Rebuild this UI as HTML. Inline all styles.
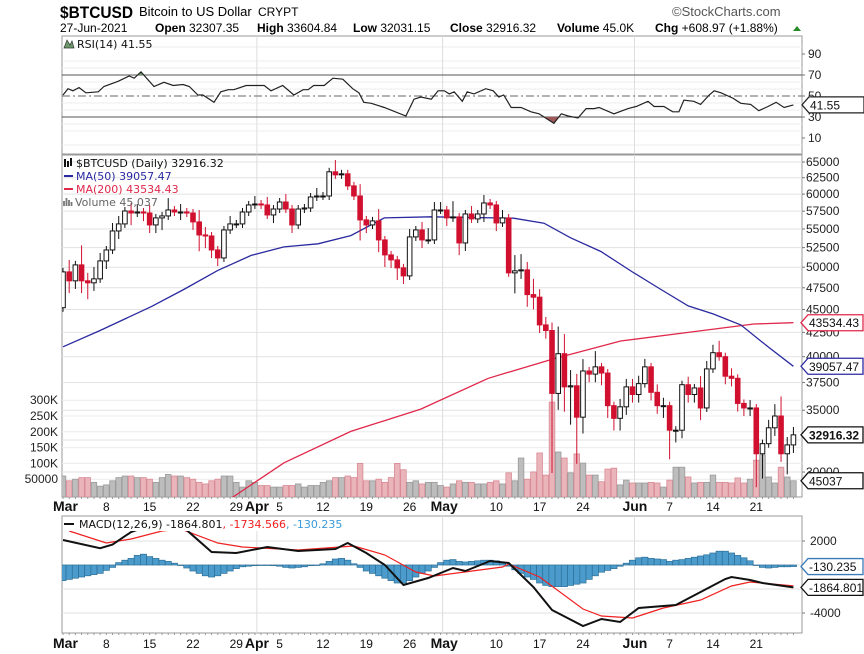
<!DOCTYPE html>
<html><head><meta charset="utf-8">
<style>
html,body{margin:0;padding:0;background:#fff;}
svg{display:block;font-family:"Liberation Sans",Arial,sans-serif;}
.leg{font-family:"DejaVu Sans","Liberation Sans",sans-serif;font-size:11px;}
</style></head>
<body>
<svg id="chart" width="864" height="654" viewBox="0 0 864 654" xmlns="http://www.w3.org/2000/svg">
<defs>
<clipPath id="cpMain"><rect x="62" y="155" width="740" height="342"/></clipPath>
<clipPath id="cpRsi"><rect x="62" y="36" width="740" height="118"/></clipPath>
<clipPath id="cpRsiLow"><rect x="62" y="117" width="740" height="37"/></clipPath>
<clipPath id="cpRsiHigh"><rect x="62" y="36" width="740" height="39"/></clipPath>
<clipPath id="cpMacd"><rect x="62" y="516" width="740" height="117"/></clipPath>
</defs>
<g id="header">
<text x="60" y="18" font-size="17" font-weight="bold" textLength="73" lengthAdjust="spacingAndGlyphs">$BTCUSD</text>
<text x="139" y="16" font-size="13">Bitcoin to US Dollar</text>
<text x="258" y="16" font-size="12">CRYPT</text>
<text x="672" y="16" font-size="13" fill="#555">©StockCharts.com</text>
<text x="60" y="32" font-size="12">27-Jun-2021<tspan x="155" font-weight="bold">Open</tspan> 32307.35<tspan x="257" font-weight="bold">High</tspan> 33604.84<tspan x="353" font-weight="bold">Low</tspan> 32031.15<tspan x="450" font-weight="bold">Close</tspan> 32916.32<tspan x="557" font-weight="bold">Volume</tspan> 45.0K<tspan x="655" font-weight="bold">Chg</tspan> +608.97 (+1.88%)</text>
<polygon points="793,31 797,26 801,31" fill="#2a8a2a"/>
</g>
<g id="rsiPanel"></g>
<g id="mainPanel"></g>
<g id="xAxis1"></g>
<g id="macdPanel"></g>
<g id="xAxis2"></g>
</svg>
<script>
// ---- data ----
const dayLabels = ["Mar","8","15","22","29","Apr","5","12","19","26","May","10","17","24","Jun","7","14","21"];
const dayLabelIdx = [0,7,14,21,28,31,35,42,49,56,61,70,77,84,92,98,105,112];
const monthStartIdx = [31,61,92];
const firstOpen = 45200;
const closes = [
49420,48330,50290,48330,48090,48570,50790,52200,54730,55700,
57525,57240,57380,57240,55560,56540,56820,57670,57380,57380,
57240,55980,54190,54050,52200,51170,54870,55700,55700,57380,
58400,58540,58400,56960,57810,58830,57810,55560,57810,57960,
59570,59720,59720,63430,62950,63110,61240,59720,56260,55560,
56120,53520,51560,50920,49920,48930,53920,54870,53520,53520,
57670,57670,56540,56680,53120,57100,56400,57100,58690,58400,
55840,56540,49300,49550,49670,46700,46400,43300,42700,36500,
40300,37100,37200,34400,38600,38300,39000,38400,35400,34300,
35300,37100,36400,37400,39000,36600,35400,35400,33300,33300,
37300,36400,37000,35200,38800,40400,40000,38100,37900,35600,
35200,35200,31400,32200,33500,34500,31400,32100,32916];
const wickUpPct = [
1,3,1,5,2,3,2,1,2,2, 1,2,2,1,2,1,1,3,1,2, 1,1,3,2,1,1,1,2,1,1,
1,2,1,2,1,1,2,1,1,1, 1,2,1,1,3,1,1,1,3,1, 1,3,1,1,1,1,2,1,2,3,
2,2,1,4,1,1,2,1,2,1, 1,2,1,4,4,2,4,2,2,2, 7,5,4,3,3,1,4,1,1,1,
2,2,2,2,2,1,2,2,1,1, 1,2,1,3,2,2,3,1,2,1, 1,2,1,1,2,3,5,2,2];
const wickDnPct = [
1,3,2,3,4,2,1,2,1,2, 1,3,1,2,2,2,3,1,1,2, 1,2,4,3,2,2,1,1,1,1,
1,1,1,1,2,1,1,2,1,1, 1,1,1,1,1,1,1,1,5,2, 1,3,3,2,3,2,1,1,2,1,
1,1,2,1,3,2,1,1,2,1, 2,1,1,5,2,3,3,2,2,18, 4,6,9,11,4,2,2,3,3,3,
3,2,2,2,1,2,2,3,7,3, 2,2,2,3,1,1,1,2,2,2, 2,2,8,6,1,2,2,5,2];
const volumesK = [
60,45,50,55,55,40,28,32,45,55, 60,60,55,55,50,40,55,65,60,60,
55,50,40,35,45,50,60,60,40,25, 45,40,30,30,25,25,30,30,35,25,
30,30,40,45,55,55,60,55,100,45, 45,50,40,55,100,80,40,45,35,40,
40,30,25,35,45,40,40,35,35,40, 45,35,70,45,117,50,73,133,63,294,
136,117,70,130,101,63,63,42,82,85, 32,47,38,38,38,40,38,25,47,88,
88,57,38,40,40,63,40,40,38,54, 38,50,110,127,57,38,88,57,45];
const ma50Day = [0,6,14.2,19.5,25,30.4,35.7,41.2,46.5,51.9,59.4,72.8,77.7,82,86.9,92,96.6,101,105,109.5,113.9,118];
const ma50Val = [41000,42700,45300,47300,49600,51500,52600,53000,54100,56540,56700,56500,55800,53800,52000,49400,47300,45400,44500,43300,41000,39057];
const ma200Day = [20,27.5,35.7,46.5,57.8,68.7,79.3,90.1,101,111.6,118];
const ma200Val = [26500,28200,30700,33200,35100,37900,39800,41600,42500,43400,43534];
const priceTicks = [65000,62500,60000,57500,55000,52500,50000,47500,45000,42500,40000,37500,35000,30000];
const volTicks = [300,250,200,150,100,50];
const volTickLabels = ["300K","250K","200K","150K","100K","50000"];
const rsiDay = [0,0.8,1.6,2.6,3.7,5.7,6.6,8.9,10.7,11.5,12.6,14.7,16.3,17.8,19.4,20.4,21.8,22.6,24.4,25.5,26.7,27.6,29.6,32.5,33.6,35.5,37.3,38.8,39.6,40.5,42.2,43.6,45.2,46.8,47.8,48.6,49.8,51.9,55.4,56.7,57.8,59.5,60.6,61.6,62.4,63.2,64.5,65.3,66.4,68.3,69.5,70.4,71.2,72.4,74,75.6,76.9,79.3,80.5,81.6,83.2,84.5,85.8,86.6,89,91.3,92.6,94.5,95.5,97.1,98.5,99.5,100.3,101.9,103,104.4,105.2,106.3,108.2,109.5,111.1,112.4,113.9,115.2,116.5,118];
const rsiVal = [51,57,55,58,53,54,59,64,69,67,73,59,63,60,61,59,51,51,44,54,56,56,60,60,55,60,51,56,56,60,60,67,66,57,53,44,43,39,31,47,49,47,55,55,52,54,45,54,52,57,55,49,51,39,39,35,33,24,33,31,29,38,38,39,33,38,40,45,40,40,35,35,46,45,42,51,55,53,48,43,42,36,40,44,39,41.55];
const rsiTicks = [90,70,50,30,10];
const macdDay = [0,6,8,11,14,17,20,24,28,33,38,44,46,49,52,55,59,63,65,69,72,76,79,84,87,90,93,99,103,107,108,111,113,118];
const macdVal = [2080,1400,1700,2750,3300,3400,2900,1080,1000,1500,1170,1330,1830,1000,0,-1670,-1080,-250,-500,330,170,-1830,-3750,-5080,-4500,-4750,-3580,-3330,-2250,-1170,-1000,-1250,-1500,-1865];
const signalDay = [1,7,11,16,19,25,29,38,47,52,57,60,71,72,77,84,87,92,97,103,108,111,118];
const signalVal = [2830,1830,2170,2830,3000,1830,1500,1250,1580,830,-580,-920,-170,80,-1000,-3670,-4250,-4420,-3580,-2920,-1750,-1420,-1735];
const histVal = [
-1300,-1200,-1100,-1000,-900,-800,-700,-450,-200,200,
400,550,800,900,700,550,400,300,150,0,
-250,-500,-700,-900,-1000,-900,-700,-500,-300,-150,
-100,-50,0,0,-50,-100,-200,-250,-200,-150,
-50,0,100,300,500,550,400,100,-200,-500,
-700,-900,-1100,-1300,-1500,-1500,-1300,-1000,-700,-500,
-200,200,400,450,300,250,300,350,400,400,
350,200,-100,-400,-700,-1000,-1200,-1500,-1700,-1800,
-1800,-1800,-1700,-1600,-1500,-1200,-900,-600,-450,-300,
-100,150,400,600,650,550,500,450,300,400,
450,550,650,750,850,1000,1150,1150,1000,800,
600,350,0,-200,-250,-200,-150,-150,-130];
const macdTicks = [2000,-4000];

// ---- scales ----
const X0 = 63, STEP = 6.19;
function xs(i){ return X0 + STEP*i; }
function yPrice(v){ return 162 + 401*Math.log(65000/v); }
function yVol(k){ return 495 - 0.316*k; }
function yRsi(v){ return 96 - (v-50)*1.05; }
function yMacd(v){ return 565 - v*0.012; }

const NS = "http://www.w3.org/2000/svg";
function mk(tag, parent, attrs){
  const e = document.createElementNS(NS, tag);
  for (const k in attrs) e.setAttribute(k, attrs[k]);
  parent.appendChild(e);
  return e;
}
function txt(parent, x, y, s, attrs){
  const t = mk("text", parent, Object.assign({x:x, y:y}, attrs||{}));
  t.textContent = s;
  return t;
}
function tag(parent, x, y, label, color, bold, name){
  const g = mk("g", parent, {});
  
  
  const w = 62;
  mk("path", g, {d:`M${x},${y} L${x+7},${y-8} L${x+w},${y-8} L${x+w},${y+8} L${x+7},${y+8} Z`, fill:"#fff", stroke:color, "stroke-width":1.3});
  txt(g, x+8, y+4.5, label, {"font-size":12, "font-weight":bold?"bold":"normal", fill:"#111"});
}

// ---- RSI panel ----
const rsiG = document.getElementById("rsiPanel");
const rb = mk("rect", rsiG, {x:62, y:36, width:740, height:118, fill:"#fff", stroke:"#999"});


[47,61,68,82,89,103,110,124,131,145].forEach(y=>{ mk("line", rsiG, {x1:62,x2:802,y1:y,y2:y,stroke:"#eee"}); });
monthStartIdx.forEach(i=>{ mk("line", rsiG, {x1:xs(i)+2,x2:xs(i)+2,y1:36,y2:154,stroke:"#ddd"}); });
[70,30].forEach(v=>{
  const l = mk("line", rsiG, {x1:62,x2:802,y1:yRsi(v),y2:yRsi(v),stroke:"#555","stroke-width":1});
  
  
});
const mid = mk("line", rsiG, {x1:62,x2:802,y1:yRsi(50),y2:yRsi(50),stroke:"#666","stroke-dasharray":"8,3,2,3"});


let rsiPts = rsiDay.map((d,k)=>xs(d).toFixed(1)+","+yRsi(rsiVal[k]).toFixed(1));
const lowFill = mk("polygon", rsiG, {points: rsiPts.join(" ")+` ${xs(118)},${yRsi(30)} ${xs(0)},${yRsi(30)}`, fill:"#a05858", "clip-path":"url(#cpRsiLow)"});


const highFill = mk("polygon", rsiG, {points: rsiPts.join(" ")+` ${xs(118)},${yRsi(70)} ${xs(0)},${yRsi(70)}`, fill:"#6a9a6a", "clip-path":"url(#cpRsiHigh)"});


const rsiLine = mk("polyline", rsiG, {points: rsiPts.join(" "), fill:"none", stroke:"#222", "stroke-width":1.2, "clip-path":"url(#cpRsi)"});


rsiTicks.forEach(v=>{
  const t = txt(rsiG, 808, yRsi(v)+4, String(v), {"font-size":12, fill:"#222"});
  
  
  mk("line", rsiG, {x1:802,x2:805,y1:yRsi(v),y2:yRsi(v),stroke:"#777"});
});
const rsiLeg = mk("g", rsiG, {});


mk("path", rsiLeg, {d:"M64,48 L67,40 L70,45 L72,41 L74,48 Z", fill:"#6a9a6a", stroke:"#333","stroke-width":0.7});
txt(rsiLeg, 77, 48, "RSI(14) 41.55", {"class":"leg", fill:"#111"});
tag(rsiG, 802, yRsi(41.55), "41.55", "#222", false, "rsi-value-tag");

// ---- main panel ----
const mg = document.getElementById("mainPanel");
const mbx = mk("rect", mg, {x:62, y:155, width:740, height:342, fill:"#fff", stroke:"#999"});


priceTicks.forEach(v=>{
  const y = yPrice(v);
  mk("line", mg, {x1:62,x2:802,y1:y,y2:y,stroke:"#e2e2e2"});
});
[32500].forEach(v=>{ mk("line", mg, {x1:62,x2:802,y1:yPrice(v),y2:yPrice(v),stroke:"#e2e2e2"}); });
volTicks.forEach(k=>{ mk("line", mg, {x1:62,x2:802,y1:yVol(k),y2:yVol(k),stroke:"#ececec"}); });
monthStartIdx.forEach(i=>{ mk("line", mg, {x1:xs(i)+2,x2:xs(i)+2,y1:155,y2:497,stroke:"#ddd"}); });
const clipG = mk("g", mg, {"clip-path":"url(#cpMain)"});
// volume
const volG = mk("g", clipG, {});


volumesK.forEach((k,i)=>{
  const prev = i===0 ? firstOpen : closes[i-1];
  const down = closes[i] < prev;
  const r = mk("rect", volG, {x:xs(i)-2.8, y:yVol(k), width:5.6, height:495-yVol(k)+2,
     fill: down ? "#eab4bb" : "#bdbdbd", stroke: down ? "#d98a94" : "#9a9a9a", "stroke-width":0.8});
  
  
});
// MA lines
const ma200 = mk("polyline", clipG, {points: ma200Day.map((d,k)=>xs(d).toFixed(1)+","+yPrice(ma200Val[k]).toFixed(1)).join(" "), fill:"none", stroke:"#e0284a", "stroke-width":1.3});


const ma50 = mk("polyline", clipG, {points: ma50Day.map((d,k)=>xs(d).toFixed(1)+","+yPrice(ma50Val[k]).toFixed(1)).join(" "), fill:"none", stroke:"#2a2aa0", "stroke-width":1.3});


// candles
const cG = mk("g", clipG, {});


closes.forEach((c,i)=>{
  const o = i===0 ? firstOpen : closes[i-1];
  const hi = Math.max(o,c)*(1+wickUpPct[i]/100);
  const lo = Math.min(o,c)*(1-wickDnPct[i]/100);
  const up = c >= o;
  const col = up ? "#111" : "#d0102e";
  const x = xs(i);
  const g = mk("g", cG, {});
  
  
  mk("line", g, {x1:x, x2:x, y1:yPrice(hi), y2:yPrice(lo), stroke:col, "stroke-width":1});
  const yt = yPrice(Math.max(o,c)), yb = yPrice(Math.min(o,c));
  mk("rect", g, {x:x-2.3, y:yt, width:4.6, height:Math.max(1,yb-yt), fill: up ? "#fff" : "#d0102e", stroke: col, "stroke-width":1});
});
// legend
const leg = mk("g", mg, {"class":"leg"});


mk("path", leg, {d:"M65,159 v8 M68,161 v6 M71,158 v8", stroke:"#111","stroke-width":2});
txt(leg, 76, 167, "$BTCUSD (Daily) 32916.32", {fill:"#111"});
mk("line", leg, {x1:64,x2:73,y1:176,y2:176,stroke:"#2a2aa0","stroke-width":2});
txt(leg, 76, 180, "MA(50) 39057.47", {fill:"#2a2aa0"});
mk("line", leg, {x1:64,x2:73,y1:189,y2:189,stroke:"#e0284a","stroke-width":2});
txt(leg, 76, 193, "MA(200) 43534.43", {fill:"#e0284a"});
mk("path", leg, {d:"M64,206 v-5 M66.5,206 v-8 M69,206 v-6 M71.5,206 v-4", stroke:"#777","stroke-width":1.8});
txt(leg, 75, 206, "Volume 45,037", {fill:"#666"});
// axis labels
priceTicks.forEach(v=>{
  const t = txt(mg, 806, yPrice(v)+4, String(v), {"font-size":12, fill:"#222"});
  
  
  mk("line", mg, {x1:802,x2:805,y1:yPrice(v),y2:yPrice(v),stroke:"#777"});
});
volTicks.forEach((k,j)=>{
  const t = txt(mg, 58, yVol(k)+4, volTickLabels[j], {"font-size":12, fill:"#222", "text-anchor":"end"});
  
  
});
tag(mg, 801, yPrice(43534.43), "43534.43", "#e0284a", false, "ma200-value-tag");
tag(mg, 801, yPrice(39057.47), "39057.47", "#2a2aa0", false, "ma50-value-tag");
tag(mg, 801, yPrice(32916.32), "32916.32", "#111", true, "close-value-tag");
tag(mg, 801, yVol(45), "45037", "#111", false, "volume-value-tag");

// ---- x axes ----
function xAxis(id, y, yTickTop){
  const g = document.getElementById(id);
  for (let i=0;i<=118;i++){
    mk("line", g, {x1:xs(i), x2:xs(i), y1:yTickTop, y2:yTickTop+2, stroke:"#999"});
  }
  dayLabels.forEach((s,j)=>{
    const isMonth = isNaN(Number(s));
    const x = xs(dayLabelIdx[j]);
    const t = txt(g, isMonth ? x-10 : x, y, s, {"font-size": isMonth?14:12, "font-weight": isMonth?"bold":"normal", fill:"#111", "text-anchor": isMonth?"start":"middle"});
    
    
  });
}
xAxis("xAxis1", 511, 497);
xAxis("xAxis2", 648, 633);

// ---- MACD panel ----
const mcG = document.getElementById("macdPanel");
const mcb = mk("rect", mcG, {x:62, y:516, width:740, height:117, fill:"#fff", stroke:"#999"});


[2000,0,-2000,-4000].forEach(v=>{ mk("line", mcG, {x1:62,x2:802,y1:yMacd(v),y2:yMacd(v),stroke:"#e2e2e2"}); });
monthStartIdx.forEach(i=>{ mk("line", mcG, {x1:xs(i)+2,x2:xs(i)+2,y1:516,y2:633,stroke:"#ddd"}); });
const mcClip = mk("g", mcG, {"clip-path":"url(#cpMacd)"});
const hG = mk("g", mcClip, {});


histVal.forEach((v,i)=>{
  const y0 = yMacd(0), y1 = yMacd(v);
  const r = mk("rect", hG, {x:xs(i)-3.1, y:Math.min(y0,y1), width:6.2, height:Math.max(0.5,Math.abs(y1-y0)), fill:"#4b9ccc", stroke:"#2c6f98", "stroke-width":0.7});
  
  
});
const sig = mk("polyline", mcClip, {points: signalDay.map((d,k)=>xs(d).toFixed(1)+","+yMacd(signalVal[k]).toFixed(1)).join(" "), fill:"none", stroke:"#f02020", "stroke-width":1.2});


const mac = mk("polyline", mcClip, {points: macdDay.map((d,k)=>xs(d).toFixed(1)+","+yMacd(macdVal[k]).toFixed(1)).join(" "), fill:"none", stroke:"#111", "stroke-width":2});


const mleg = mk("g", mcG, {"class":"leg"});


mk("rect", mleg, {x:63, y:517, width:355, height:14, fill:"#fff"});
mk("line", mleg, {x1:64,x2:74,y1:524,y2:524,stroke:"#111","stroke-width":2});
const mt = txt(mleg, 79, 528, "MACD(12,26,9) -1864.801", {fill:"#111"});
const ts1 = document.createElementNS(NS,"tspan"); ts1.setAttribute("fill","#f02020"); ts1.textContent=", -1734.566"; mt.appendChild(ts1);
const ts2 = document.createElementNS(NS,"tspan"); ts2.setAttribute("fill","#3a9ad9"); ts2.textContent=", -130.235"; mt.appendChild(ts2);
macdTicks.forEach(v=>{
  const t = txt(mcG, 810, yMacd(v)+4, String(v), {"font-size":12, fill:"#222"});
  
  
  mk("line", mcG, {x1:802,x2:805,y1:yMacd(v),y2:yMacd(v),stroke:"#777"});
});
tag(mcG, 801, yMacd(-130.235), "-130.235", "#3a7ab9", false, "histogram-value-tag");
tag(mcG, 801, yMacd(-1864.801), "-1864.801", "#111", false, "macd-value-tag");
</script>
</body></html>
